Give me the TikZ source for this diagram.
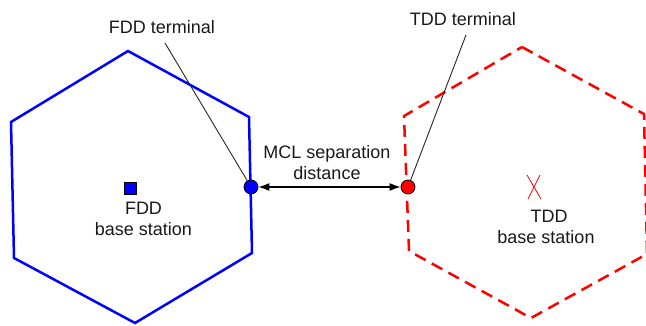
\documentclass[tikz,border=0pt]{standalone}
\usepackage{fontspec}
\setmainfont{Liberation Sans}
\usetikzlibrary{arrows.meta}
\begin{document}
\begin{tikzpicture}[x=1pt,y=-1pt,
  lbl/.style={font=\fontsize{18}{21}\selectfont, text=black!90, inner sep=0pt, align=center},
  fddcell/.style={draw=blue, line width=2.5pt, line join=miter},
  tddcell/.style={draw=red, line width=2.5pt, dash pattern=on 12pt off 7pt},
  term/.style={circle, draw=black, line width=0.8pt, minimum size=14pt, inner sep=0pt},
  leader/.style={draw=black!85, line width=0.9pt},
  dist/.style={draw=black, line width=1.2pt, {Latex[length=11pt,width=8pt]}-{Latex[length=11pt,width=8pt]}}
]
\useasboundingbox (0,0) rectangle (646,326);
% FDD cell
\draw[fddcell] (128,51) -- (249,117) -- (252,253) -- (135,323) -- (14,258) -- (11,122) -- cycle;
% TDD cell
\draw[tddcell] (522,47) -- (644,114) -- (647,254) -- (531,318) -- (409,251) -- (404,116) -- cycle;
% base stations
\node[draw=black, line width=0.6pt, fill=blue, minimum size=12pt, inner sep=0pt] (fddbs) at (130,188) {};
\node[lbl] (fddbslbl) at (143.5,219) {FDD\\base station};
\coordinate (tddbs) at (534,187);
\draw[red, line width=0.8pt] (527,175) -- (541,199) (540,175) -- (528,199);
\node[lbl] (tddbslbl) at (546,227) {\hspace*{6pt}TDD\\base station};
% terminals
\node[term, fill=blue] (fddt) at (251,187) {};
\node[term, fill=red] (tddt) at (408,187) {};
% labels
\node[lbl] (fddlbl) at (162,27) {FDD terminal};
\node[lbl] (tddlbl) at (463,19) {TDD terminal};
\coordinate (fddlead) at (165,43);
\coordinate (tddlead) at (466,35);
\draw[leader] (fddlead) -- (fddt);
\draw[leader] (tddlead) -- (tddt);
% distance
\draw[dist] (fddt) -- (tddt);
\node[lbl] (mcl) at (327,163) {MCL separation\\distance};
\end{tikzpicture}
\end{document}
